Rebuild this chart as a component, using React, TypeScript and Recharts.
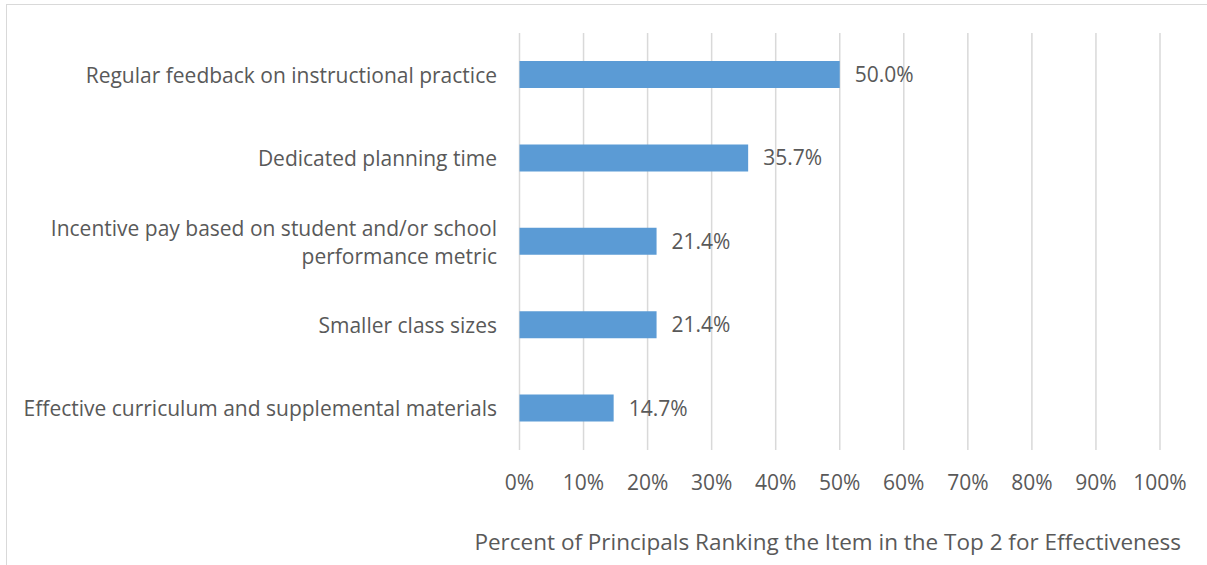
import { BarChart, Bar, XAxis, YAxis, CartesianGrid, LabelList, Label } from 'recharts';

const categories = [
    'Regular feedback on instructional practice',
    'Dedicated planning time',
    'Incentive pay based on student and/or school performance metric',
    'Smaller class sizes',
    'Effective curriculum and supplemental materials'
];
const percents = [50.0, 35.7, 21.4, 21.4, 14.7];
const xTicks = [0, 10, 20, 30, 40, 50, 60, 70, 80, 90, 100];
const axisTitle = 'Percent of Principals Ranking the Item in the Top 2 for Effectiveness';

const data = categories.map((name, i) => ({ name, value: percents[i] }));

const FONT = '"Open Sans", sans-serif';
const TEXT = '#595959';
const SIZE = 21;

// split long labels into lines like the spreadsheet does
function wrap(label: string, max = 50) {
    const lines: string[] = [];
    let cur = '';
    for (const w of label.split(' ')) {
        const next = cur ? cur + ' ' + w : w;
        if (next.length > max && cur) {
            lines.push(cur);
            cur = w;
        } else {
            cur = next;
        }
    }
    if (cur) lines.push(cur);
    return lines;
}

function CategoryTick({ x, y, payload }: any) {
    const lines = wrap(payload.value);
    const lineH = 28;
    const start = y - ((lines.length - 1) * lineH) / 2;
    return (
        <text x={x} y={start} textAnchor="end" fill={TEXT} fontSize={SIZE} fontFamily={FONT} dominantBaseline="central">
            {lines.map((l, i) => (
                <tspan key={i} x={x} y={start + i * lineH}>{l}</tspan>
            ))}
        </text>
    );
}

function App() {
    return (
        <div style={{ position: 'absolute', left: 0, top: 0, width: 1207, height: 565, overflow: 'hidden', background: '#fff' }}>
            <div style={{
                position: 'absolute',
                left: 6,
                top: 4,
                width: 1201,
                height: 561,
                borderLeft: '1.5px solid #d9d9d9',
                borderTop: '1.5px solid #d9d9d9',
                boxSizing: 'border-box'
            }} />
            <div style={{ position: 'absolute', left: 0, top: 0 }}>
                <BarChart
                    width={1207}
                    height={565}
                    data={data}
                    layout="vertical"
                    margin={{ top: 33, right: 47, bottom: 0, left: 0 }}
                >
                    <CartesianGrid horizontal={false} stroke="#d9d9d9" strokeWidth={1.5} />
                    <XAxis
                        type="number"
                        domain={[0, 100]}
                        ticks={xTicks}
                        tickFormatter={(v: number) => v + '%'}
                        axisLine={false}
                        tickLine={false}
                        tickMargin={19}
                        height={115}
                        interval={0}
                        tick={{ fill: TEXT, fontSize: SIZE, fontFamily: FONT }}
                    >
                        <Label
                            content={() => (
                                <text x={1181} y={541} textAnchor="end" dominantBaseline="central" fill={TEXT} fontSize={22.5} fontFamily={FONT}>
                                    {axisTitle}
                                </text>
                            )}
                        />
                    </XAxis>
                    <YAxis
                        type="category"
                        dataKey="name"
                        width={519.5}
                        axisLine={false}
                        tickLine={false}
                        tickMargin={16.5}
                        interval={0}
                        tick={<CategoryTick />}
                    />
                    <Bar dataKey="value" fill="#5b9bd5" barSize={27} isAnimationActive={false}>
                        <LabelList
                            dataKey="value"
                            position="right"
                            offset={15}
                            formatter={(v: any) => Number(v).toFixed(1) + '%'}
                            fill={TEXT}
                            fontSize={SIZE}
                            fontFamily={FONT}
                        />
                    </Bar>
                </BarChart>
            </div>
        </div>
    );
}

export default App;
